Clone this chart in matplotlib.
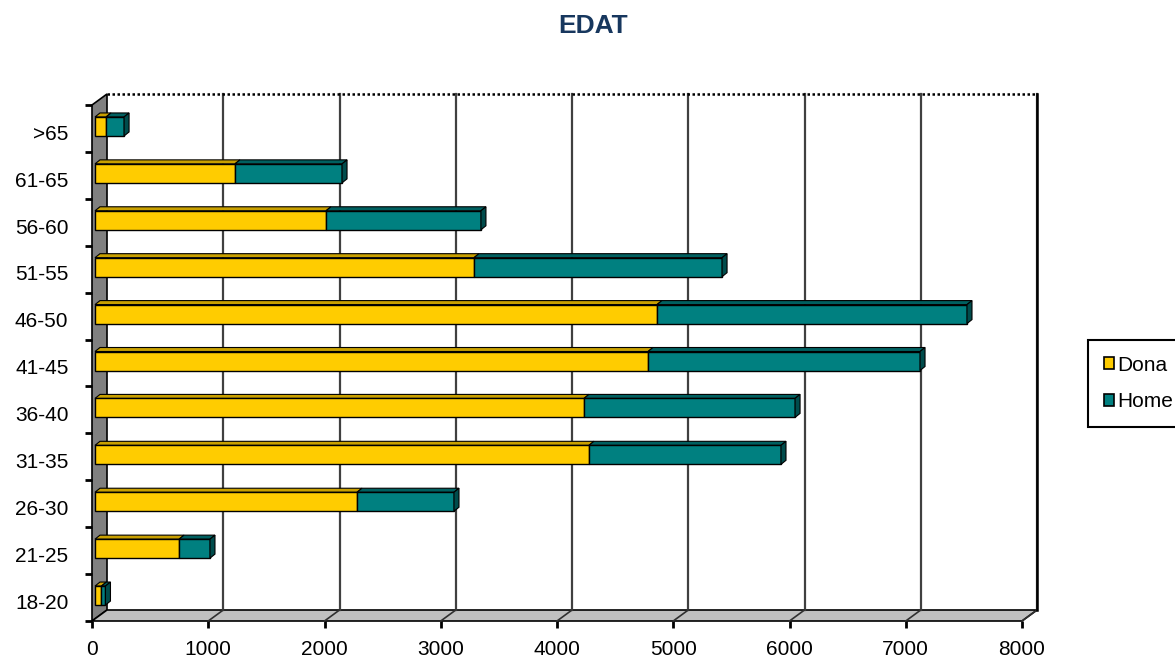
import matplotlib
matplotlib.use('Agg')
import matplotlib.pyplot as plt
from matplotlib.patches import Polygon, Rectangle, Patch

plt.rcParams['font.family'] = ['Liberation Sans', 'DejaVu Sans']

# data
categories = ['18-20', '21-25', '26-30', '31-35', '36-40', '41-45',
              '46-50', '51-55', '56-60', '61-65', '>65']
dona = [55, 723, 2254, 4249, 4206, 4757, 4834, 3260, 1987, 1204, 95]
home = [35, 266, 834, 1652, 1816, 2340, 2667, 2134, 1333, 921, 155]
xticks = [0, 1000, 2000, 3000, 4000, 5000, 6000, 7000, 8000]

W, H = 1175, 660
fig = plt.figure(figsize=(W / 100, H / 100), dpi=100)
# front plane of the 3d box, in pixels
L, R, T, B = 92, 1022, 105, 621
ax = fig.add_axes([L / W, 1 - B / H, (R - L) / W, (B - T) / H])
xmax = 8000
ny = len(categories)
ax.set_xlim(0, xmax)
ax.set_ylim(0, ny)

# pixel -> data units
px = xmax / (R - L)
py = ny / (B - T)
DX, DY = 15 * px, 11 * py

# walls
ax.add_patch(Polygon([(0, 0), (DX, DY), (DX, ny + DY), (0, ny)],
                     closed=True, fc='#808080', ec='black', lw=1.2, clip_on=False, zorder=1))
ax.add_patch(Polygon([(0, 0), (xmax, 0), (xmax + DX, DY), (DX, DY)],
                     closed=True, fc='#C0C0C0', ec='black', lw=1.2, clip_on=False, zorder=1))

# gridlines on the back wall and floor
for v in xticks[1:]:
    ax.plot([v + DX, v + DX], [DY, ny + DY], color='#404040', lw=1.6, clip_on=False, zorder=2)
    ax.plot([v, v + DX], [0, DY], color='#303030', lw=1.2, clip_on=False, zorder=2)
ax.plot([DX, xmax + DX], [ny + DY, ny + DY], color='black', lw=1.8, ls=(0, (1, 1)),
        clip_on=False, zorder=2)
ax.plot([xmax + DX, xmax + DX], [DY, ny + DY], color='black', lw=1.8, clip_on=False, zorder=2)

# bars
bx, by = 3 * px, 2 * py
ddx, ddy = 5 * px, 4 * py
h = 19 * py
face = {'Dona': '#FFCC00', 'Home': '#008080'}
top = {'Dona': '#C9A000', 'Home': '#006060'}
side = '#004C4C'
for i, (d, m) in enumerate(zip(dona, home)):
    y0 = i + 0.5 + by - h / 2
    y1 = y0 + h
    left = bx
    for name, val in (('Dona', d), ('Home', m)):
        ax.add_patch(Polygon([(left, y1), (left + val, y1), (left + val + ddx, y1 + ddy),
                              (left + ddx, y1 + ddy)], closed=True, fc=top[name],
                             ec='black', lw=0.8, zorder=3, clip_on=False))
        ax.add_patch(Rectangle((left, y0), val, h, fc=face[name], ec='black',
                               lw=1.0, zorder=4, clip_on=False))
        left += val
    ax.add_patch(Polygon([(left, y0), (left, y1), (left + ddx, y1 + ddy), (left + ddx, y0 + ddy)],
                         closed=True, fc=side, ec='black', lw=0.8, zorder=4, clip_on=False))

for s in ax.spines.values():
    s.set_visible(False)
ax.set_xticks(xticks)
ax.set_xticklabels([str(v) for v in xticks], fontsize=15)
ax.tick_params(axis='x', length=5, width=2, pad=9)
ax.set_yticks(range(ny + 1))
ax.set_yticklabels([])
ax.tick_params(axis='y', which='major', length=5, width=2)
ax.set_yticks([i + 0.42 for i in range(ny)], minor=True)
ax.set_yticklabels(categories, minor=True, fontsize=15)
ax.tick_params(axis='y', which='minor', length=0, pad=17)

fig.text(593 / W, 1 - 26 / H, 'EDAT', ha='center', va='center', fontsize=19,
         fontweight='bold', color='#17375E')

handles = [Patch(fc=face['Dona'], ec='black', lw=1.2, label='Dona'),
           Patch(fc=face['Home'], ec='black', lw=1.2, label='Home')]
leg = fig.legend(handles=handles, loc='upper left', bbox_to_anchor=(1088 / W, 1 - 340 / H),
                 borderaxespad=0, fontsize=15, handlelength=0.5, handleheight=0.5,
                 handletextpad=0.15, labelspacing=0.85, borderpad=0.75, fancybox=False,
                 edgecolor='black', framealpha=1)
leg.get_frame().set_linewidth(1.5)

fig.savefig('out.png', dpi=100)
